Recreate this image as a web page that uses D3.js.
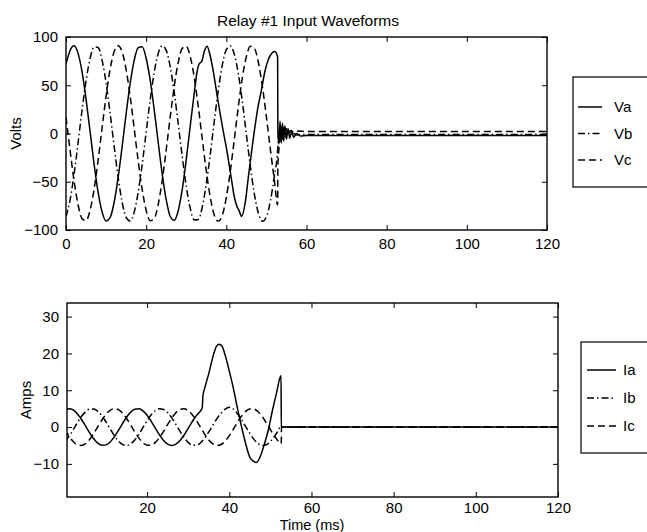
<!DOCTYPE html>
<html>
<head>
<meta charset="utf-8">
<script src="https://cdn.jsdelivr.net/npm/d3@7/dist/d3.min.js"></script>
<style>
  body { margin: 0; background: #fff; }
  text { font-family: "Liberation Sans", Arial, Helvetica, sans-serif; fill: #000; }
</style>
</head>
<body>
<div id="chart"></div>
<script>
// Chart texts
const title = "Relay #1 Input Waveforms";
const xLabel = "Time (ms)";

// Tick values
const voltTimeTicks = [0, 20, 40, 60, 80, 100, 120];
const voltTicks = [-100, -50, 0, 50, 100];
const ampTimeTicks = [20, 40, 60, 80, 100, 120];
const ampTicks = [-10, 0, 10, 20, 30];

// Legend labels
const voltNames = ["Va", "Vb", "Vc"];
const ampNames = ["Ia", "Ib", "Ic"];

// Voltages, [time ms, volts]
const vaPoints = [[0,72],[1,85.8],[2,90.9],[3,83.3],[4,64],[5,35.6],[6,2.3],[7,-31.4],[8,-60.6],[9,-81.3],[10,-90.6],[11,-87.2],[12,-71.5],[13,-45.8],[14,-13.7],[15,20.4],[16,51.6],[17,75.6],[18,88.9],[19,89.8],[20,78],[21,55.3],[22,24.8],[23,-9.1],[24,-41.8],[25,-68.6],[26,-86],[27,-90],[28,-80],[29,-58],[30,-27],[31,8],[32,42],[32.7,64],[33.2,72],[33.9,75],[34.5,85],[35.2,90.5],[36,80],[36.8,63],[37.6,42],[38.4,22],[39.2,3],[40.1,-17],[41.3,-48],[42,-66],[42.6,-75],[43.2,-80],[43.8,-86],[44.7,-72],[45.5,-45],[46.7,-6],[47.8,25],[48.8,46],[49.6,64],[50.5,77],[51.3,83],[52.1,85],[52.8,79],[52.85,6],[53.1,-11],[53.4,13],[53.7,-10],[54,11],[54.3,-8],[54.6,8],[55,-6],[55.4,5],[55.8,-5],[56.3,3],[56.8,-4],[57.5,0],[58.5,-2.5],[60,-2],[120,-2]];
const vbPoints = [[0,-86.1],[1,-69.2],[2,-42.6],[3,-10],[4,24],[5,54.6],[6,77.6],[7,89.6],[8,89.1],[9,76.1],[10,52.3],[11,21.2],[12,-12.8],[13,-45.1],[14,-71],[15,-87],[16,-90.7],[17,-81.7],[18,-61.2],[19,-32.2],[20,1.4],[21,34.8],[22,63.3],[23,82.9],[24,90.9],[25,86.1],[26,69.2],[27,42.6],[28,10],[29,-24],[30,-54.6],[31,-77.6],[32,-89.6],[33,-89.1],[34,-76.1],[35,-52.3],[36,-21.2],[37,12.8],[38,45.1],[39,71],[40,87],[41,90.7],[42,82],[43,61.7],[44,32.8],[45,-0.8],[46,-34.2],[47,-62.9],[48,-82.7],[49,-90.9],[50,-86.3],[51,-69.6],[52,-43.1],[52.8,-17.4],[52.85,-12],[53.1,4],[53.4,-8],[53.7,8],[54,-6],[54.4,5],[54.8,-4],[55.3,3],[55.8,-2],[56.5,1],[57.5,-1.5],[60,-1],[120,-1]];
const vcPoints = [[0,17],[1,-17],[2,-48.8],[3,-73.6],[4,-88.2],[5,-90.3],[6,-79.7],[7,-58],[8,-28.1],[9,5.7],[10,38.8],[11,66.3],[12,84.6],[13,91],[14,84.6],[15,66.3],[16,38.8],[17,5.7],[18,-28.1],[19,-58],[20,-79.7],[21,-90.3],[22,-88.2],[23,-73.6],[24,-48.8],[25,-17],[26,17],[27,48.8],[28,73.6],[29,88.2],[30,90.3],[31,79.7],[32,58],[33,28.1],[34,-5.7],[35,-38.8],[36,-66.3],[37,-84.6],[38,-91],[39,-84.6],[40,-66.3],[41,-38.8],[42,-5.7],[43,28.1],[44,58],[45,79.7],[46,90.3],[47,88.2],[48,73.6],[49,48.8],[50,17],[51,-17],[52,-48.8],[52.8,-74],[52.85,-35],[53.2,-12],[53.5,8],[53.8,-6],[54.2,7],[54.6,-3],[55,5],[55.5,0],[56,3],[57,1],[58,2.5],[60,2],[120,2]];

// Currents, [time ms, amps]
const iaPoints = [[0,4.65],[1,5],[2,4.65],[3,3.64],[4,2.13],[5,0.31],[6,-1.55],[7,-3.19],[8,-4.38],[9,-4.96],[10,-4.84],[11,-4.05],[12,-2.68],[13,-0.94],[14,0.94],[15,2.68],[16,4.05],[17,4.84],[18,4.96],[19,4.38],[20,3.19],[21,1.55],[22,-0.31],[23,-2.13],[24,-3.64],[25,-4.65],[26,-5],[27,-4.65],[28,-3.67],[29,-2.16],[30,-0.35],[31,1.51],[32,3.16],[33,4.4],[33.4,5.2],[33.6,8.7],[34,10.5],[35,14.5],[36,19],[36.8,21.8],[37.5,22.5],[38.2,22],[39,19.5],[40,15.2],[41,10.5],[42,5],[43,0],[44,-4.6],[45,-8.2],[46,-9.4],[46.6,-9.6],[47.5,-8.1],[48.5,-4.8],[49.5,-0.8],[50.5,4.5],[51.5,9.3],[52.6,14],[52.65,0],[120,0]];
const ibPoints = [[0,-3.93],[1,-2.51],[2,-0.74],[3,1.13],[4,2.85],[5,4.16],[6,4.89],[7,4.93],[8,4.28],[9,3.03],[10,1.35],[11,-0.51],[12,-2.31],[13,-3.78],[14,-4.72],[15,-5],[16,-4.57],[17,-3.5],[18,-1.95],[19,-0.11],[20,1.73],[21,3.34],[22,4.47],[23,4.98],[24,4.79],[25,3.92],[26,2.51],[27,0.74],[28,-1.13],[29,-2.85],[30,-4.16],[31,-4.89],[32,-4.93],[33,-4.28],[34,-3.03],[35,-1.35],[36,0.51],[37,2.31],[38,3.78],[39,4.9],[40,5.4],[41,4.9],[42,3.6],[43,1.95],[44,0.11],[45,-1.73],[46,-3.34],[47,-4.47],[48,-4.98],[49,-4.79],[50,-3.92],[51,-2.51],[52,-0.74],[52.65,0.5],[52.7,0],[120,0]];
const icPoints = [[0,-0.71],[1,-2.48],[2,-3.91],[3,-4.78],[4,-4.98],[5,-4.49],[6,-3.36],[7,-1.76],[8,0.09],[9,1.92],[10,3.49],[11,4.56],[12,5],[13,4.73],[14,3.8],[15,2.33],[16,0.54],[17,-1.33],[18,-3.01],[19,-4.27],[20,-4.93],[21,-4.89],[22,-4.17],[23,-2.87],[24,-1.16],[25,0.71],[26,2.48],[27,3.91],[28,4.78],[29,4.98],[30,4.49],[31,3.36],[32,1.76],[33,-0.09],[34,-1.92],[35,-3.49],[36,-4.56],[37,-5],[38,-4.73],[39,-3.8],[40,-2.33],[41,-0.54],[42,1.33],[43,3.01],[44,4.27],[45,4.93],[46,4.89],[47,4.17],[48,2.87],[49,1.16],[50,-0.71],[51,-2.48],[52,-3.91],[52.65,-4.5],[52.7,0],[120,0]];

// Line styles per phase: solid, dash-dot, dashed
const dashes = [null, "7,3,1.5,3", "7,4"];

// Set up the SVG element
const svgWidth = 647;
const svgHeight = 532;
const fontSize = 15;

const svg = d3.select("#chart")
  .append("svg")
  .attr("width", svgWidth)
  .attr("height", svgHeight);

// Draw one boxed panel with inward ticks on all sides
function drawPanel(opt) {
  const x = d3.scaleLinear().domain(opt.xDomain).range([opt.left, opt.right]);
  const y = d3.scaleLinear().domain(opt.yDomain).range([opt.bottom, opt.top]);
  const clipId = "clip-" + opt.id;

  svg.append("clipPath").attr("id", clipId)
    .append("rect")
    .attr("x", opt.left).attr("y", opt.top)
    .attr("width", opt.right - opt.left).attr("height", opt.bottom - opt.top);

  // Axes
  const axes = [
    { ax: d3.axisBottom(x).tickValues(opt.xTicks), tr: `translate(0,${opt.bottom})`, pad: opt.xPad },
    { ax: d3.axisTop(x).tickValues(opt.xTicks).tickFormat(""), tr: `translate(0,${opt.top})` },
    { ax: d3.axisLeft(y).tickValues(opt.yTicks), tr: `translate(${opt.left},0)`, pad: 8 },
    { ax: d3.axisRight(y).tickValues(opt.yTicks).tickFormat(""), tr: `translate(${opt.right},0)` }
  ];
  axes.forEach(a => {
    const g = svg.append("g")
      .attr("transform", a.tr)
      .call(a.ax.tickSizeInner(-5).tickSizeOuter(0).tickPadding(a.pad || 0));
    g.select(".domain").remove();
    g.selectAll("line").attr("stroke", "#000").attr("stroke-width", 1);
    g.selectAll("text")
      .attr("font-size", fontSize)
      .attr("font-family", "'Liberation Sans', Arial, sans-serif")
      .text(d => a.pad ? String(d).replace("-", "\u2212") : "");
  });

  // Lines
  const line = d3.line()
    .x(d => x(d[0]))
    .y(d => y(d[1]))
    .curve(d3.curveMonotoneX);

  const plot = svg.append("g").attr("clip-path", `url(#${clipId})`);
  opt.series.slice().reverse().forEach((s, i) => {
    const k = opt.series.length - 1 - i;
    plot.append("path")
      .datum(s)
      .attr("fill", "none")
      .attr("stroke", "#000")
      .attr("stroke-width", 1.5)
      .attr("stroke-dasharray", dashes[k])
      .attr("d", line);
  });

  // Box
  svg.append("rect")
    .attr("x", opt.left).attr("y", opt.top)
    .attr("width", opt.right - opt.left).attr("height", opt.bottom - opt.top)
    .attr("fill", "none").attr("stroke", "#000").attr("stroke-width", 1.4);

  // Y label
  svg.append("text")
    .attr("transform", `translate(${opt.yLabelX},${(opt.top + opt.bottom) / 2}) rotate(-90)`)
    .attr("text-anchor", "middle")
    .attr("font-size", fontSize)
    .text(opt.yLabel);

  // Legend
  const lg = opt.legend;
  svg.append("rect")
    .attr("x", lg.x).attr("y", lg.y)
    .attr("width", lg.w).attr("height", lg.h)
    .attr("fill", "#fff").attr("stroke", "#000").attr("stroke-width", 1.2);
  opt.names.forEach((name, i) => {
    const cy = lg.y + lg.first + i * lg.step;
    svg.append("line")
      .attr("x1", lg.x + lg.lineStart).attr("x2", lg.x + lg.lineEnd)
      .attr("y1", cy).attr("y2", cy)
      .attr("stroke", "#000").attr("stroke-width", 1.5)
      .attr("stroke-dasharray", dashes[i]);
    svg.append("text")
      .attr("x", lg.x + lg.textX).attr("y", cy + 5)
      .attr("font-size", fontSize)
      .text(name);
  });
}

// Top panel: voltages
drawPanel({
  id: "volts",
  left: 66, right: 547, top: 37, bottom: 230,
  xDomain: [0, 120], yDomain: [-100, 100],
  xTicks: voltTimeTicks, yTicks: voltTicks, xPad: 8,
  series: [vaPoints, vbPoints, vcPoints],
  names: voltNames,
  yLabel: "Volts", yLabelX: 21,
  legend: { x: 573, y: 77, w: 80, h: 110, first: 30, step: 26.5, lineStart: 5, lineEnd: 29, textX: 41 }
});

// Bottom panel: currents
drawPanel({
  id: "amps",
  left: 67, right: 558, top: 303, bottom: 497,
  xDomain: [0.5, 120], yDomain: [-19, 33.7],
  xTicks: ampTimeTicks, yTicks: ampTicks, xPad: 5,
  series: [iaPoints, ibPoints, icPoints],
  names: ampNames,
  yLabel: "Amps", yLabelX: 31,
  legend: { x: 581, y: 342, w: 80, h: 111, first: 28, step: 28, lineStart: 6, lineEnd: 35, textX: 42 }
});

// Title and x label
svg.append("text")
  .attr("x", 308).attr("y", 26)
  .attr("text-anchor", "middle")
  .attr("font-size", 15.5)
  .text(title);

svg.append("text")
  .attr("x", 312).attr("y", 530)
  .attr("text-anchor", "middle")
  .attr("font-size", 14.5)
  .text(xLabel);
</script>
</body>
</html>
